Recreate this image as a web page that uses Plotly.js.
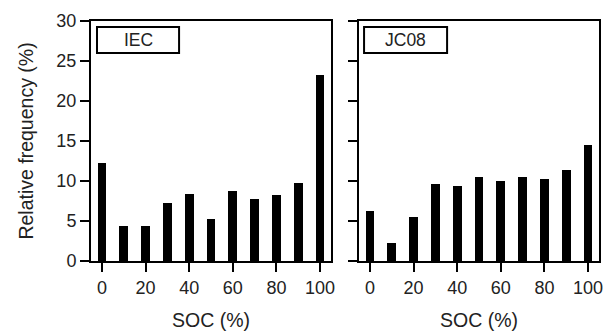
<!DOCTYPE html>
<html>
<head>
<meta charset="utf-8">
<script src="https://cdn.plot.ly/plotly-3.0.1.min.js"></script>
<style>html,body{margin:0;padding:0;background:#fff;}#chart{width:611px;height:331px;}</style>
</head>
<body>
<div id="chart"></div>
<script>
const soc = [0, 10, 20, 30, 40, 50, 60, 70, 80, 90, 100];
const iecFreq = [12.3, 4.4, 4.4, 7.3, 8.4, 5.2, 8.8, 7.8, 8.3, 9.7, 23.3];
const jc08Freq = [6.25, 2.25, 5.5, 9.6, 9.4, 10.5, 10.0, 10.5, 10.2, 11.4, 14.5];
const panelLabels = ["IEC", "JC08"];
const xTicks = [0, 20, 40, 60, 80, 100];
const yTicks = [0, 5, 10, 15, 20, 25, 30];

const tickFont = {family: "Liberation Sans, Arial, sans-serif", size: 18, color: "#222"};
const titleFont = {family: "Liberation Sans, Arial, sans-serif", size: 19.5, color: "#222"};
const labelFont = {family: "Liberation Sans, Arial, sans-serif", size: 17.5, color: "#222"};

const traces = [
  {type: "bar", x: soc, y: iecFreq, width: 4, marker: {color: "#000"}, xaxis: "x", yaxis: "y", showlegend: false, hoverinfo: "skip"},
  {type: "bar", x: soc, y: jc08Freq, width: 4, marker: {color: "#000"}, xaxis: "x2", yaxis: "y2", showlegend: false, hoverinfo: "skip"}
];

const xBase = {
  range: [-5, 105], tickvals: xTicks, ticks: "outside", ticklen: 9, tickwidth: 2, tickcolor: "#000",
  showline: true, linewidth: 2, linecolor: "#000", mirror: true, showgrid: false, zeroline: false,
  tickfont: tickFont, automargin: false, fixedrange: true
};
const yBase = {
  range: [0, 30], tickvals: yTicks, ticks: "outside", ticklen: 9, tickwidth: 2, tickcolor: "#000",
  showline: true, linewidth: 2, linecolor: "#000", mirror: true, showgrid: false, zeroline: false,
  tickfont: tickFont, automargin: false, fixedrange: true
};

const layout = {
  width: 611, height: 331,
  margin: {l: 91, r: 12, t: 21, b: 70},
  paper_bgcolor: "#fff", plot_bgcolor: "#fff",
  font: tickFont,
  bargap: 0,
  xaxis: Object.assign({}, xBase, {domain: [0, 0.4724], anchor: "y", title: {text: "SOC (%)", font: titleFont, standoff: 17}}),
  xaxis2: Object.assign({}, xBase, {domain: [0.5276, 1], anchor: "y2", title: {text: "SOC (%)", font: titleFont, standoff: 17}}),
  yaxis: Object.assign({}, yBase, {domain: [0, 1], anchor: "x", title: {text: "Relative frequency (%)", font: titleFont, standoff: 18}}),
  yaxis2: Object.assign({}, yBase, {domain: [0, 1], anchor: "x2", showticklabels: false}),
  shapes: [
    {type: "rect", xref: "x domain", yref: "y domain", x0: 0.025, x1: 0.367, y0: 0.867, y1: 0.975, line: {color: "#000", width: 2}, fillcolor: "#fff"},
    {type: "rect", xref: "x2 domain", yref: "y2 domain", x0: 0.021, x1: 0.367, y0: 0.867, y1: 0.975, line: {color: "#000", width: 2}, fillcolor: "#fff"}
  ],
  annotations: [
    {text: panelLabels[0], xref: "x domain", yref: "y domain", x: 0.196, y: 0.921, showarrow: false, font: labelFont, xanchor: "center", yanchor: "middle"},
    {text: panelLabels[1], xref: "x2 domain", yref: "y2 domain", x: 0.194, y: 0.921, showarrow: false, font: labelFont, xanchor: "center", yanchor: "middle"}
  ]
};

Plotly.newPlot("chart", traces, layout, {staticPlot: true, displayModeBar: false});
</script>
</body>
</html>
